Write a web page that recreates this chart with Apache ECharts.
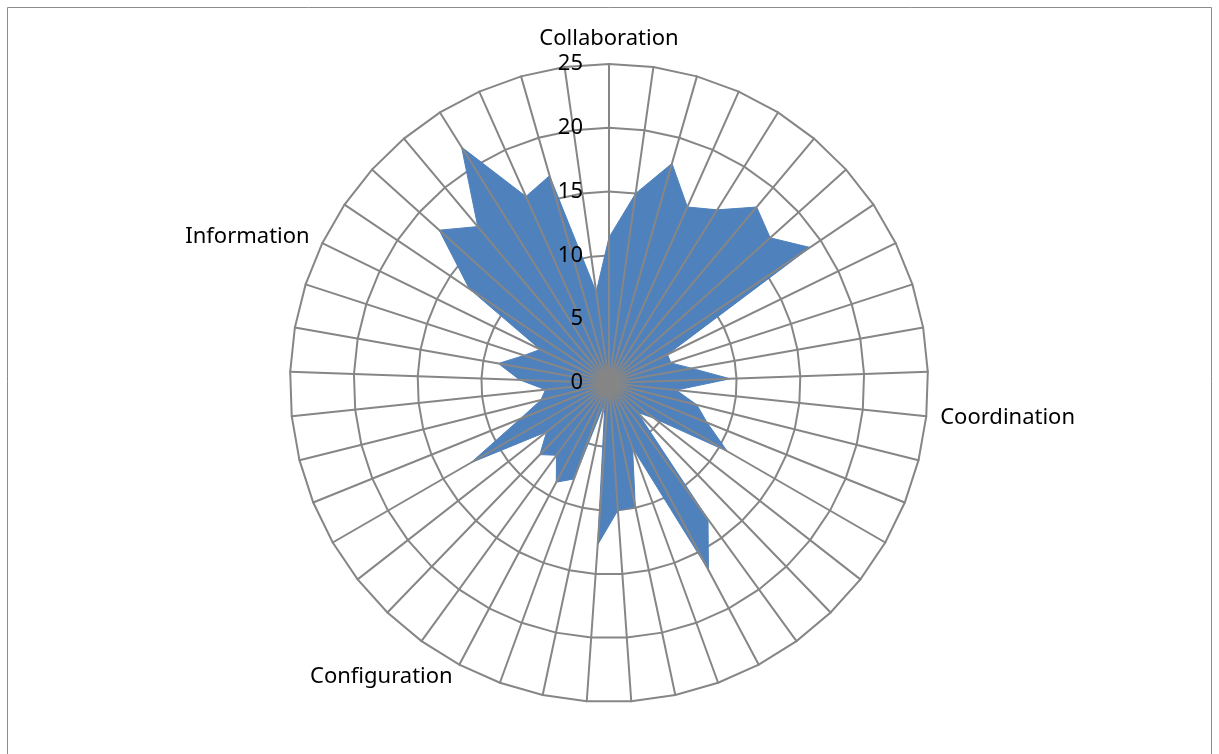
<!DOCTYPE html>
<html>
<head>
<meta charset="utf-8">
<script src="https://cdn.jsdelivr.net/npm/echarts@6/dist/echarts.min.js"></script>
<style>
  html, body { margin: 0; padding: 0; background: #fff; }
  #chart { width: 1219px; height: 754px; }
</style>
</head>
<body>
<div id="chart"></div>
<script>
// spokes, clockwise from the top one; only the first spoke of each group carries a name
const categories = [
  'Collaboration', '', '', '', '', '', '', '', '', '', '', '',
  'Coordination', '', '', '', '', '', '', '', '', '', '', '', '', '',
  'Configuration', '', '', '', '', '', '', '', '', '', '',
  'Information', '', '', '', '', '', '', ''
]
const values = [
  11.4, 15, 17.9, 15.1, 16, 18, 17, 19, 5.1, 5.1, 6.6, 9.5,
  5.3, 7.1, 8.3, 10.7, 4.5, 3.2, 13.2, 16.6, 5.4, 9.9, 10, 12.7, 1.5, 8,
  8.8, 7, 7.8, 6.2, 12.5, 7.5, 5.5, 5, 7, 8.8, 7,
  6, 13.2, 17.9, 16, 21.8, 16, 16.9, 7.2
]
const axisMax = 25
const axisSplits = 5

const gridColor = '#868686'
const fillColor = '#4F81BD'
const font = 'Noto Sans'

// echarts lays the indicators out counter-clockwise, so keep the first and reverse the rest
const order = [0].concat(categories.map((_, i) => i).slice(1).reverse())

const baseRadar = {
  center: [609, 383],
  radius: 319,
  startAngle: 90,
  shape: 'polygon',
  splitNumber: axisSplits,
  splitArea: { show: false }
}

const chart = echarts.init(document.getElementById('chart'))

chart.setOption({
  backgroundColor: '#fff',
  animation: false,
  graphic: [{
    type: 'rect',
    shape: { x: 7.5, y: 7.5, width: 1204, height: 800 },
    style: { fill: 'none', stroke: '#8c8c8c', lineWidth: 1 },
    silent: true
  }],
  radar: [
    // rings and names, below the fill
    Object.assign({}, baseRadar, {
      z: 0,
      indicator: order.map(i => ({ name: categories[i], min: 0, max: axisMax })),
      nameGap: 14,
      axisName: { color: '#000', fontSize: 22, fontFamily: font },
      axisLine: { show: false },
      axisTick: { show: false },
      axisLabel: { show: false },
      splitLine: { lineStyle: { color: gridColor, width: 2 } }
    }),
    // spokes and tick labels, drawn over the fill
    Object.assign({}, baseRadar, {
      z: 5,
      indicator: order.map((i, k) => {
        const ind = { name: '', min: 0, max: axisMax }
        if (k === 0) {
          ind.axisLabel = { show: true, color: '#000', fontSize: 22, fontFamily: font, margin: 26 }
        }
        return ind
      }),
      axisName: { show: false },
      axisLine: { lineStyle: { color: gridColor, width: 2 } },
      axisTick: { show: false },
      axisLabel: { show: false },
      splitLine: { show: false }
    })
  ],
  series: [{
    type: 'radar',
    radarIndex: 0,
    z: 2,
    symbol: 'none',
    lineStyle: { color: fillColor, width: 1 },
    areaStyle: { color: fillColor, opacity: 1 },
    data: [{ value: order.map(i => values[i]) }]
  }]
})
</script>
</body>
</html>
